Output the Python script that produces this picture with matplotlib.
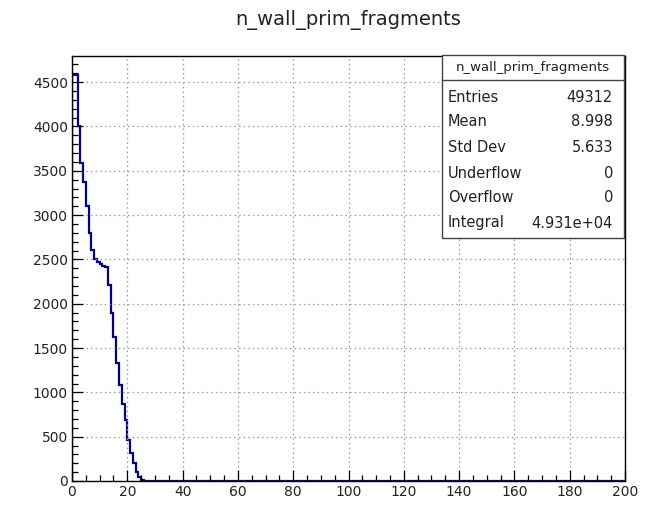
import numpy as np
import matplotlib
matplotlib.use("Agg")
import matplotlib.pyplot as plt
from matplotlib.ticker import MultipleLocator

# ---Data---
title = "n_wall_prim_fragments"
x_low, x_high, n_bins = 0, 200, 200
first_counts = [4580, 4575, 4000, 3590, 3370, 3100, 2800, 2610, 2500, 2470,
                2450, 2430, 2410, 2210, 1900, 1625, 1330, 1085, 870, 690,
                460, 315, 200, 100, 45, 15, 5, 2]
counts = first_counts + [0] * (n_bins - len(first_counts))
edges = np.linspace(x_low, x_high, n_bins + 1)

stat_names = ["Entries", "Mean", "Std Dev", "Underflow", "Overflow", "Integral"]
stat_values = ["49312", "8.998", "5.633", "0", "0", "4.931e+04"]

# ---Figure---
W, H = 655, 505
fig = plt.figure(figsize=(W / 100, H / 100), dpi=100)
ax = fig.add_axes([72 / W, 1 - 481 / H, (625 - 72) / W, (481 - 56) / H])

ax.stairs(counts, edges, color="#000099", lw=1.6, baseline=0)
ax.set_xlim(x_low, x_high)
ax.set_ylim(0, 4795)

ax.xaxis.set_major_locator(MultipleLocator(20))
ax.xaxis.set_minor_locator(MultipleLocator(5))
ax.yaxis.set_major_locator(MultipleLocator(500))
ax.yaxis.set_minor_locator(MultipleLocator(100))
ax.tick_params(which="both", direction="in", top=False, right=False,
               labelsize=10, width=0.9, colors="black", labelcolor="#222222")
ax.tick_params(which="major", length=8, pad=3)
ax.tick_params(which="minor", length=4)
ax.grid(True, which="major", color="#9a9a9a", linestyle=(0, (1.2, 2.5)), lw=0.9)
for sp in ax.spines.values():
    sp.set_linewidth(1.0)
    sp.set_color("black")

fig.text(0.5 * (72 + 625) / W, 1 - 20 / H, title, ha="center", va="center",
         fontsize=14, color="#222222")

# stats box
bx0, bx1, by0, by1 = 442, 624, 55, 238
box = plt.Rectangle((bx0 / W, 1 - by1 / H), (bx1 - bx0) / W, (by1 - by0) / H,
                    transform=fig.transFigure, facecolor="white",
                    edgecolor="#444444", lw=1.0, zorder=5)
fig.add_artist(box)
fig.add_artist(plt.Line2D([bx0 / W, bx1 / W], [1 - 80 / H, 1 - 80 / H],
                          transform=fig.transFigure, color="#444444", lw=1.0, zorder=6))
fig.text((bx0 + bx1) / 2 / W, 1 - 68 / H, title, ha="center", va="center",
         fontsize=9.5, color="#222222", zorder=7)
row_y = [97, 122, 148, 173, 198, 223]
for name, val, yy in zip(stat_names, stat_values, row_y):
    fig.text(448 / W, 1 - yy / H, name, ha="left", va="center",
             fontsize=10.5, color="#222222", zorder=7)
    fig.text(613 / W, 1 - yy / H, val, ha="right", va="center",
             fontsize=10.5, color="#222222", zorder=7)

fig.savefig("out.png", dpi=100)
